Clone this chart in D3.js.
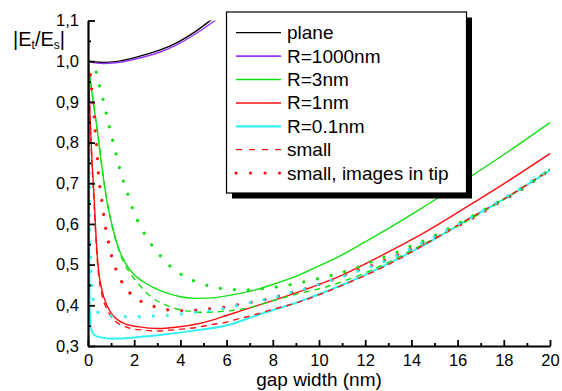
<!DOCTYPE html>
<html>
<head>
<meta charset="utf-8">
<script src="https://cdn.jsdelivr.net/npm/d3@7"></script>
<style>
    body { margin: 0; background: #fff; }
    text { font-family: "Liberation Sans", Arial, sans-serif; fill: #000; }
</style>
</head>
<body>
<div id="chart"></div>
<script>
// ticks
const gapTicks = [0, 2, 4, 6, 8, 10, 12, 14, 16, 18, 20];
const gapMinorTicks = [1, 3, 5, 7, 9, 11, 13, 15, 17, 19];
const fieldTicks = [0.3, 0.4, 0.5, 0.6, 0.7, 0.8, 0.9, 1.0, 1.1];
const fieldMinorTicks = [0.35, 0.45, 0.55, 0.65, 0.75, 0.85, 0.95, 1.05];

// [gap (nm), |Et/Es|]
const planeData = [[0,1.0],[0.3,0.998],[0.7,0.997],[1.2,0.999],[2.1,1.01],[3.1,1.027],[3.9,1.047],[4.6,1.071],[5.3,1.1],[5.8,1.121]];
const r1000Data = [[0,1.0],[0.3,0.996],[0.7,0.994],[1.2,0.996],[2.1,1.006],[3.1,1.022],[3.9,1.042],[4.6,1.065],[5.5,1.1],[5.9,1.117]];
const r3Data = [[0,1.0],[0.2,0.91],[0.41,0.827],[0.6,0.74],[0.84,0.65],[1.06,0.593],[1.35,0.536],[1.64,0.502],[2.0,0.475],[2.4,0.458],[2.8,0.445],[3.28,0.433],[4.0,0.421],[4.73,0.417],[5.5,0.419],[6.17,0.425],[7.25,0.438],[8.2,0.455],[9.13,0.474],[10.0,0.497],[11.0,0.524],[12.0,0.556],[12.88,0.585],[14.54,0.642],[16.34,0.708],[18.2,0.778],[20,0.849]];
const r1Data = [[0,1.0],[0.08,0.88],[0.16,0.77],[0.27,0.659],[0.34,0.577],[0.44,0.495],[0.6,0.438],[0.84,0.397],[1.2,0.368],[1.64,0.354],[2.22,0.347],[3.0,0.343],[3.8,0.346],[4.87,0.356],[6.0,0.375],[7.25,0.398],[9.13,0.433],[11.0,0.474],[12.66,0.521],[14.54,0.578],[16.34,0.64],[18.2,0.706],[20,0.773]];
const r01Data = [[0,1.0],[0.02,0.85],[0.04,0.65],[0.06,0.45],[0.1,0.355],[0.2,0.332],[0.41,0.323],[1.06,0.318],[2.0,0.321],[3.28,0.328],[4.73,0.339],[6.17,0.353],[7.25,0.374],[9.13,0.409],[11.0,0.45],[12.88,0.499],[14.54,0.548],[16.34,0.607],[18.2,0.668],[20,0.732]];
const r3SmallData = [[0,1.0],[0.41,0.827],[0.84,0.65],[1.06,0.59],[1.35,0.533],[1.6,0.5],[1.91,0.472],[2.27,0.447],[2.7,0.422],[3.28,0.403],[3.86,0.391],[4.44,0.385],[5.01,0.383],[5.52,0.384],[6.03,0.386],[6.46,0.389],[7.03,0.395],[8.12,0.413],[9.13,0.429],[10.28,0.445],[11.29,0.464],[12.3,0.487],[14,0.535],[16,0.595],[18,0.66],[20,0.735]];
const r1SmallData = [[0,1.0],[0.08,0.87],[0.16,0.76],[0.27,0.645],[0.34,0.565],[0.44,0.485],[0.6,0.428],[0.84,0.388],[1.2,0.36],[1.64,0.347],[1.92,0.342],[2.42,0.339],[3.0,0.337],[3.57,0.339],[4.15,0.342],[4.73,0.346],[5.3,0.352],[5.88,0.357],[6.46,0.366],[7.03,0.374],[8,0.39],[9.13,0.408],[11.0,0.449],[12.88,0.497],[14.54,0.548],[16.34,0.608],[18.2,0.668],[20,0.732]];
const r3TipData = [[0,1.0],[0.35,0.973],[0.51,0.937],[0.66,0.904],[0.8,0.869],[0.94,0.835],[1.09,0.8],[1.23,0.768],[1.39,0.732],[1.57,0.698],[1.78,0.664],[1.98,0.63],[2.27,0.595],[2.59,0.562],[3.04,0.528],[3.6,0.494],[4.25,0.469],[4.87,0.454],[5.52,0.444],[6.14,0.439],[6.77,0.438],[7.42,0.44],[8.04,0.444],[8.69,0.45],[9.3,0.457],[9.92,0.465],[10.57,0.474],[11.19,0.484],[11.84,0.497],[12.45,0.511],[13.1,0.524],[13.74,0.54],[14.36,0.554],[14.97,0.57],[15.62,0.589],[16.27,0.608],[16.87,0.626],[17.5,0.646],[18.5,0.675],[20,0.735]];
const r1TipData = [[0,1.0],[0.11,0.964],[0.16,0.93],[0.22,0.896],[0.27,0.862],[0.31,0.827],[0.37,0.792],[0.41,0.759],[0.45,0.724],[0.51,0.691],[0.6,0.657],[0.68,0.622],[0.77,0.587],[0.89,0.554],[1.03,0.519],[1.23,0.485],[1.52,0.452],[2.04,0.419],[2.68,0.401],[3.32,0.39],[3.96,0.387],[4.58,0.388],[5.2,0.391],[5.84,0.395],[6.46,0.401],[7.73,0.415],[8.36,0.424],[8.98,0.434],[9.63,0.444],[10.24,0.456],[10.86,0.468],[11.5,0.483],[12.16,0.495],[12.78,0.509],[13.4,0.524],[14.03,0.54],[14.68,0.556],[15.3,0.575],[15.95,0.593],[18,0.66],[20,0.733]];
const r01TipData = [[0,1.0],[0.04,0.8],[0.08,0.59],[0.12,0.5],[0.16,0.454],[0.22,0.417],[0.41,0.384],[0.7,0.377],[1.06,0.374],[1.68,0.372],[2.34,0.372],[2.96,0.374],[3.6,0.376],[4.22,0.38],[4.87,0.384],[5.49,0.388],[6.13,0.395],[6.74,0.403],[7.37,0.411],[8.04,0.419],[8.67,0.43],[9.3,0.439],[9.92,0.45],[10.57,0.462],[11.19,0.474],[11.83,0.487],[12.5,0.5],[14,0.54],[16,0.598],[18,0.662],[20,0.735]];

const legendLabels = ['plane', 'R=1000nm', 'R=3nm', 'R=1nm', 'R=0.1nm', 'small', 'small, images in tip'];

const colors = { black: '#000000', violet: '#9933ff', green: '#11e011', red: '#ff1010', cyan: '#33f0f0' };
const dashes = { solid: null, dash: '6,5', dot: '0.01,14' };

const series = [
    { data: planeData, color: colors.black, style: 'solid' },
    { data: r1000Data, color: colors.violet, style: 'solid' },
    { data: r3Data, color: colors.green, style: 'solid' },
    { data: r1Data, color: colors.red, style: 'solid' },
    { data: r01Data, color: colors.cyan, style: 'solid' },
    { data: r3SmallData, color: colors.green, style: 'dash' },
    { data: r1SmallData, color: colors.red, style: 'dash' },
    { data: r3TipData, color: colors.green, style: 'dot' },
    { data: r1TipData, color: colors.red, style: 'dot' },
    { data: r01TipData, color: colors.cyan, style: 'dot' }
];

const legendStyles = [
    { color: colors.black, dash: null, width: 1.3 },
    { color: colors.violet, dash: null, width: 1.8 },
    { color: colors.green, dash: null, width: 1.5 },
    { color: colors.red, dash: null, width: 1.5 },
    { color: colors.cyan, dash: null, width: 2.2 },
    { color: colors.red, dash: '6,7', width: 1.3 },
    { color: colors.red, dash: '0.01,14.5', width: 3.2 }
];

const width = 562, height = 391;
const margin = { top: 20.5, right: 12, bottom: 45, left: 88 };

const svg = d3.select('#chart').append('svg')
    .attr('width', width)
    .attr('height', height);

const x = d3.scaleLinear().domain([0, 20]).range([margin.left, width - margin.right]);
const y = d3.scaleLinear().domain([0.3, 1.1]).range([height - margin.bottom, margin.top]);

svg.append('defs').append('clipPath').attr('id', 'plot-clip')
    .append('rect')
    .attr('x', x(0))
    .attr('y', y(1.1))
    .attr('width', x(20) - x(0))
    .attr('height', y(0.3) - y(1.1));

const line = d3.line()
    .x(d => x(d[0]))
    .y(d => y(d[1]))
    .curve(d3.curveMonotoneX);

svg.append('g').attr('clip-path', 'url(#plot-clip)')
    .selectAll('path')
    .data(series)
    .enter()
    .append('path')
    .attr('d', d => line(d.data))
    .attr('fill', 'none')
    .attr('stroke', d => d.color)
    .attr('stroke-width', d => d.style === 'dot' ? 3.2 : (d.color === colors.cyan ? 2 : 1.4))
    .attr('stroke-dasharray', d => dashes[d.style])
    .attr('stroke-linecap', d => d.style === 'dot' ? 'round' : 'butt');

// axes, ticks point inward
const commaFmt = d => d3.format('.1f')(d).replace('.', ',');

const xAxis = svg.append('g')
    .attr('transform', 'translate(0,' + y(0.3) + ')')
    .call(d3.axisBottom(x).tickValues(gapTicks).tickSize(-6).tickSizeOuter(0).tickPadding(8).tickFormat(d3.format('d')));
svg.append('g')
    .attr('transform', 'translate(0,' + y(0.3) + ')')
    .call(d3.axisBottom(x).tickValues(gapMinorTicks).tickSize(-3).tickSizeOuter(0).tickFormat(''))
    .select('.domain').remove();

const yAxis = svg.append('g')
    .attr('transform', 'translate(' + x(0) + ',0)')
    .call(d3.axisLeft(y).tickValues(fieldTicks).tickSize(-7).tickSizeOuter(0).tickPadding(9).tickFormat(commaFmt));
svg.append('g')
    .attr('transform', 'translate(' + x(0) + ',0)')
    .call(d3.axisLeft(y).tickValues(fieldMinorTicks).tickSize(-3).tickSizeOuter(0).tickFormat(''))
    .select('.domain').remove();

svg.selectAll('.domain').attr('stroke-width', 2.2).attr('stroke', '#000');
svg.selectAll('.tick line').attr('stroke-width', 1.8).attr('stroke', '#000');
xAxis.selectAll('text').style('font-size', '16.5px');
yAxis.selectAll('text').style('font-size', '16.5px');

svg.append('text')
    .attr('x', 319)
    .attr('y', 386)
    .attr('text-anchor', 'middle')
    .style('font-size', '19px')
    .text('gap width (nm)');

const yTitle = svg.append('text')
    .attr('x', 13)
    .attr('y', 46)
    .style('font-size', '20px');
yTitle.append('tspan').text('|E');
yTitle.append('tspan').attr('dy', 3).style('font-size', '12px').text('t');
yTitle.append('tspan').attr('dy', -3).text('/E');
yTitle.append('tspan').attr('dy', 3).style('font-size', '12px').text('s');
yTitle.append('tspan').attr('dy', -3).text('|');

// legend box with drop shadow
const legend = { x: 226.5, y: 12, w: 240, h: 181, row: 23.4 };
const lg = svg.append('g');
lg.append('rect')
    .attr('x', legend.x + 5.5).attr('y', legend.y + 5.5)
    .attr('width', legend.w).attr('height', legend.h)
    .attr('fill', '#000');
lg.append('rect')
    .attr('x', legend.x).attr('y', legend.y)
    .attr('width', legend.w).attr('height', legend.h)
    .attr('fill', '#fff').attr('stroke', '#000').attr('stroke-width', 1.2);

const rows = lg.selectAll('.legend-row')
    .data(legendLabels)
    .enter()
    .append('g')
    .attr('class', 'legend-row')
    .attr('transform', (d, i) => 'translate(0,' + (legend.y + 20.7 + legend.row * i) + ')');

rows.append('line')
    .attr('x1', 236).attr('x2', 281)
    .attr('stroke', (d, i) => legendStyles[i].color)
    .attr('stroke-width', (d, i) => legendStyles[i].width)
    .attr('stroke-dasharray', (d, i) => legendStyles[i].dash)
    .attr('stroke-linecap', (d, i) => legendStyles[i].width > 3 ? 'round' : 'butt');

rows.append('text')
    .attr('x', 287)
    .attr('y', 6.5)
    .style('font-size', '19px')
    .text(d => d);
</script>
</body>
</html>
